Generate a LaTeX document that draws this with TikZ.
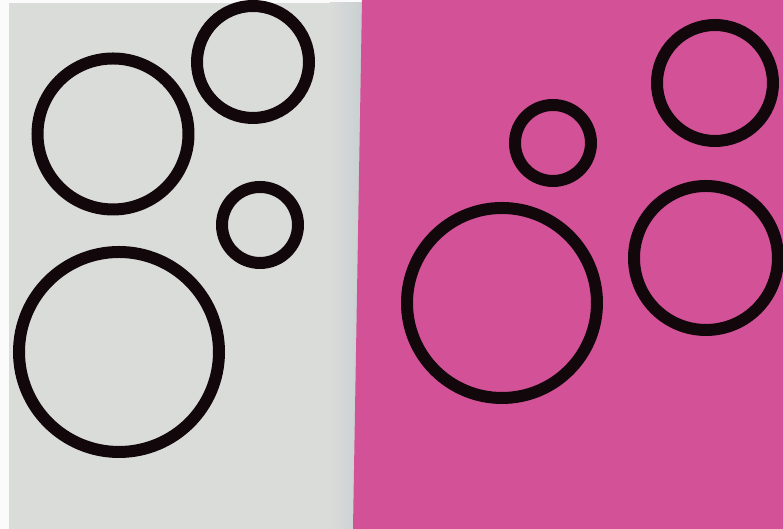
\documentclass[tikz,border=0pt]{standalone}
\definecolor{paper}{RGB}{218,220,218}
\definecolor{edge}{RGB}{200,206,208}
\definecolor{card}{RGB}{211,82,151}
\definecolor{ink}{RGB}{18,8,12}
\begin{document}
\begin{tikzpicture}
  [x=0.1mm,y=-0.1mm,every node/.style={circle,draw=ink,line width=1.2mm,inner sep=0pt}]
\useasboundingbox (0,0) rectangle (783,529);
  % sheets
  \fill[white!90!paper] (0,0) rectangle (783,529);
  \fill[paper] (9,3) rectangle (330,529);
  \shade[left color=paper,right color=edge] (330,3) rectangle (364,529);
  \fill[card] (362,0) -- (783,0) -- (783,529) -- (353,529) -- cycle;

  % left sheet
  \node (l1) at (113,134) [minimum size=15.1mm] {};
  \node (l2) at (253,62) [minimum size=11.2mm] {};
  \node (l3) at (260,225) [minimum size=7.6mm] {};
  \node (l4) at (119,352) [minimum size=20.0mm] {};

  % right sheet
  \node (r1) at (715,83) [minimum size=11.6mm] {};
  \node (r2) at (553,143) [minimum size=7.6mm] {};
  \node (r3) at (502,303) [minimum size=19.0mm] {};
  \node (r4) at (706,258) [minimum size=14.4mm] {};
\end{tikzpicture}
\end{document}
